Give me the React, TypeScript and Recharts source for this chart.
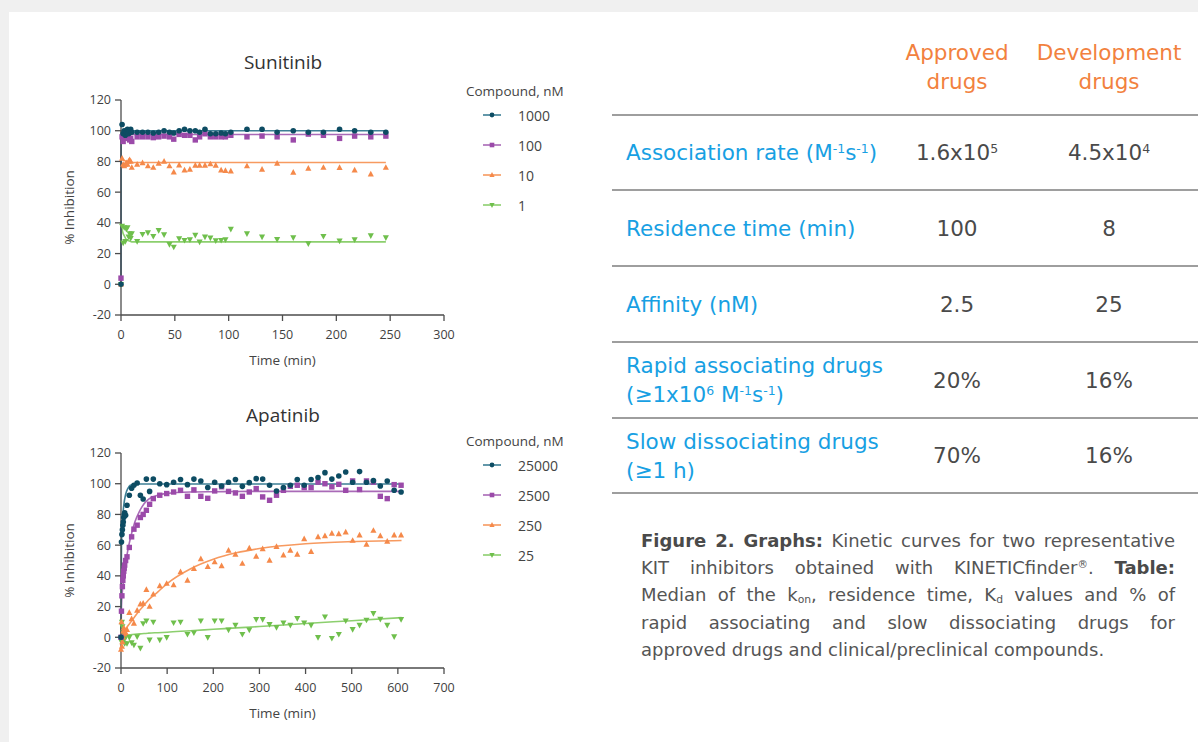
import React from 'react';
import { ComposedChart, XAxis, YAxis, Scatter, Line, Legend } from 'recharts';

// Sunitinib, time in min
const suniTime = [0, 1, 2, 3, 4, 5, 6, 7, 8, 9, 10, 15, 20, 25, 30, 35, 40, 45, 49, 54, 59, 64, 69, 73, 78, 83, 88, 93, 97, 102, 117, 131, 145, 160, 174, 188, 203, 217, 232, 246];
const suni1000 = [0, 104, 98, 100, 97, 99, 101, 98, 100, 101, 99, 99, 99, 99, 98.5, 99, 100, 99, 98.5, 100, 101, 100, 100, 99, 101, 98, 98, 98.5, 98, 99, 101, 101, 99, 100, 99, 99, 101, 100, 99, 99];
const suni100 = [4, 96, 93, 97, 95, 98, 96, 97, 94, 95, 93, 96, 96, 96, 95.5, 96, 96.5, 96, 94.5, 97.6, 97, 97, 94, 96, 98, 96, 96, 96, 96, 97, 96, 96.5, 96, 94, 97.8, 97, 95, 96.5, 96, 96.5];
const suni10 = [0, 82, 78, 77, 78, 79, 78, 80, 81, 80, 76, 78, 79, 77, 76, 78.7, 80, 77, 73, 77.6, 74.3, 74.8, 77.4, 77.4, 77.4, 78.3, 77.4, 74.3, 74, 73.7, 77, 74.8, 78.7, 72.8, 75.4, 76, 75.9, 74.3, 71.7, 76];
const suni1 = [0, 38, 27, 37, 28, 36, 37, 31, 33, 30, 33, 28, 32.6, 33.7, 31.3, 35.2, 32.4, 26, 24.3, 29.8, 28.7, 29.1, 32, 27.6, 30.9, 30.2, 28.5, 28.7, 29.1, 35.9, 33, 30.9, 29.3, 30.4, 26.5, 31.3, 28.3, 29.1, 31.7, 30.4];

const suniFitTime = [0, 0.2, 2, 5, 10, 246];
const suniFit1000 = [0, 100, 100, 100, 100, 100];
const suniFit100 = [0, 97.5, 97.5, 97.5, 97.5, 97.5];
const suniFit10 = [0, 83, 81, 80, 79.3, 79.3];
const suniFit1 = [0, 38, 33, 29, 27.6, 27.6];

// Apatinib, time in min
const apaTime = [0, 1, 2, 3, 4, 5, 6, 7, 8, 10, 13, 18, 23, 28, 35, 42, 48, 55, 62, 70, 84, 99, 114, 129, 144, 158, 173, 188, 203, 218, 233, 248, 263, 278, 293, 307, 322, 337, 352, 367, 382, 397, 412, 427, 442, 457, 472, 487, 502, 517, 532, 547, 562, 577, 592, 607];
const apa25000 = [0, 62, 67, 70, 73, 75, 78, 80, 81, 79.5, 86, 92.5, 97, 99, 100.5, 92.5, 90, 103, 95, 103, 100, 99.4, 101, 102.7, 99.4, 103, 101.8, 97.5, 101, 98.5, 101, 102.7, 98.3, 100.7, 103.3, 103, 99, 95.3, 97.5, 99, 102.7, 99, 102.7, 104, 107.2, 103, 105, 107.6, 101, 107.9, 101, 102, 98.5, 101.8, 95.7, 94.6];
const apa2500 = [0, 17, 27, 33, 37, 40, 43, 45, 47, 50, 52.4, 58.5, 65.4, 70.4, 73, 78, 80, 82.7, 86.6, 90.3, 92.5, 93.6, 94.6, 95.7, 91.8, 96, 91.8, 90.5, 95.3, 98, 95, 94, 91.8, 94.6, 96.8, 91.4, 89.2, 92.5, 95.7, 98.3, 99, 97.5, 97.5, 101, 100, 98, 99.6, 95.7, 101.8, 96.2, 101.8, 101, 91.8, 90.3, 99.4, 99];
const apa250 = [-8, 10, -6, -3, 0, 4, 6, 2, 5, 3, 5, 16, 12, 9, 17.5, 21.5, 22, 31, 20, 28, 33.5, 35, 34, 42.5, 37, 44.7, 51, 46, 49, 46.5, 56.5, 54, 48, 58, 52.7, 57.5, 50, 59, 53.5, 56.5, 54, 64, 55.8, 65.4, 66, 67.6, 67.3, 68.4, 63, 66.5, 60.5, 69.5, 66, 62.4, 66.5, 66.5];
const apa25 = [0, -3, 10, 7, -1, 3, -2, 1, -4, 0, -4, 0, -3.5, -5, 0.5, -7, 9, 10.8, -1.7, 10, -1.7, 0, 9.5, 10, 2, 3, 10.8, 0, 10.8, 10.8, 4.8, 8, 2, 4.8, 11.7, 11.7, 8.4, 6.5, 9.5, 8, 12.3, 9.5, 8, 0, 13.4, -0.6, 2, 10.8, 5.2, 8, 11.3, 15.6, 11.9, 8, 0.4, 11.7];

const apaFitTime = [0, 1, 3, 6, 10, 15, 20, 30, 40, 50, 60, 80, 100, 150, 200, 250, 300, 400, 500, 608];
const apaFit25000 = [0, 60, 75, 86, 93, 97, 99, 99.7, 99.8, 99.8, 99.8, 99.8, 99.8, 99.8, 99.8, 99.8, 99.8, 99.8, 99.8, 99.8];
const apaFit2500 = [0, 20, 30, 38, 48, 57, 64, 75, 82, 87, 90, 92.5, 93.7, 94.6, 94.8, 94.9, 95, 95, 95, 95];
const apaFit250 = [0, 0.5, 1.5, 3, 5, 7.5, 9.4, 13.5, 17.4, 20.9, 24.4, 29.6, 35, 44.5, 50.8, 55, 57.8, 60.9, 62.3, 63];
const apaFit25 = [0, 0.8, 1, 1.1, 1.3, 1.5, 1.7, 2, 2.2, 2.5, 2.7, 3, 3.3, 4.3, 5.2, 6.1, 7, 9, 10.8, 12.8];

const suniLabels = ['1000', '100', '10', '1'];
const apaLabels = ['25000', '2500', '250', '25'];
const yTicks = [-20, 0, 20, 40, 60, 80, 100, 120];
const suniXTicks = [0, 50, 100, 150, 200, 250, 300];
const apaXTicks = [0, 100, 200, 300, 400, 500, 600, 700];

type Kind = 'circle' | 'square' | 'up' | 'down';
const KINDS: Kind[] = ['circle', 'square', 'up', 'down'];
const DOT = ['#0d4c63', '#9b4aa9', '#f5894a', '#6fbf4c'];
const FIT = ['#3d7f95', '#a96ab7', '#f79a60', '#8ccf6e'];
const FONT = '"Open Sans", Lato, sans-serif';
const TABLE_FONT = '"DejaVu Sans", Verdana, sans-serif';

const toPts = (ts: number[], ys: number[]) => ts.map((t, i) => ({ t, y: ys[i] }));

function Marker({ cx, cy, kind, fill, s = 1 }: any) {
  if (cx == null || cy == null) return null;
  if (kind === 'circle') return <circle cx={cx} cy={cy} r={2.8 * s} fill={fill} />;
  if (kind === 'square') {
    const h = 2.7 * s;
    return <rect x={cx - h} y={cy - h} width={2 * h} height={2 * h} fill={fill} />;
  }
  const a = 3.4 * s;
  const b = 2.3 * s;
  if (kind === 'up') return <path d={`M${cx},${cy - a}L${cx + a * 0.9},${cy + b}L${cx - a * 0.9},${cy + b}Z`} fill={fill} />;
  return <path d={`M${cx},${cy + a}L${cx + a * 0.9},${cy - b}L${cx - a * 0.9},${cy - b}Z`} fill={fill} />;
}

type ChartProps = {
  title: string;
  top: number;
  time: number[];
  values: number[][];
  fitTime: number[];
  fits: number[][];
  labels: string[];
  xTicks: number[];
  fitType: 'linear' | 'monotone';
  legendTop: number;
};

function KineticChart({ title, top, time, values, fitTime, fits, labels, xTicks, fitType, legendTop }: ChartProps) {
  const tickStyle = { fill: '#3f3f3f', fontSize: 12.5, fontFamily: FONT };
  // draw lowest concentration first so the top series sits on top
  const order = [3, 2, 1, 0];
  return (
    <div style={{ position: 'absolute', left: 0, top, width: 600, height: 330 }}>
      <div
        style={{
          position: 'absolute', left: 0, top: 9, width: 566, textAlign: 'center',
          fontFamily: FONT, fontSize: 19, lineHeight: '26px', color: '#333',
        }}
      >
        {title}
      </div>
      <ComposedChart width={600} height={330} margin={{ top: 60, right: 156, bottom: 5, left: 55 }}>
        <XAxis
          dataKey="t"
          type="number"
          domain={[xTicks[0], xTicks[xTicks.length - 1]]}
          ticks={xTicks}
          height={50}
          tickSize={6}
          tickMargin={9}
          stroke="#4d4d4d"
          strokeWidth={1.3}
          tick={tickStyle}
          label={{ value: 'Time (min)', position: 'insideBottom', offset: 0, style: { fill: '#444', fontSize: 13.5, fontFamily: FONT } }}
        />
        <YAxis
          dataKey="y"
          type="number"
          domain={[-20, 120]}
          ticks={yTicks}
          width={66}
          tickSize={6}
          tickMargin={4}
          stroke="#4d4d4d"
          strokeWidth={1.3}
          tick={tickStyle}
          label={{ value: '% Inhibition', angle: -90, position: 'insideLeft', offset: 14, style: { textAnchor: 'middle', fill: '#444', fontSize: 13.5, fontFamily: FONT } }}
        />
        {order.map((i) => (
          <Line
            key={`fit-${i}`}
            data={toPts(fitTime, fits[i])}
            dataKey="y"
            type={fitType}
            stroke={FIT[i]}
            strokeWidth={1.6}
            dot={false}
            activeDot={false}
            isAnimationActive={false}
          />
        ))}
        {order.map((i) => (
          <Scatter
            key={`pts-${i}`}
            name={labels[i]}
            data={toPts(time, values[i])}
            dataKey="y"
            fill={DOT[i]}
            shape={(p: any) => <Marker cx={p.cx} cy={p.cy} kind={KINDS[i]} fill={DOT[i]} />}
            isAnimationActive={false}
          />
        ))}
        <Legend
          layout="vertical"
          align="center"
          verticalAlign="middle"
          wrapperStyle={{ left: 466, top: legendTop, width: 130 }}
          content={() => (
            <div style={{ fontFamily: FONT, color: '#444' }}>
              <div style={{ fontSize: 13.5, lineHeight: '18px', whiteSpace: 'nowrap' }}>Compound, nM</div>
              {labels.map((lab, i) => (
                <div key={lab} style={{ display: 'flex', alignItems: 'center', height: 30, paddingLeft: 16 }}>
                  <svg width={20} height={10} style={{ display: 'block' }}>
                    <line x1={1} y1={5} x2={19} y2={5} stroke={FIT[i]} strokeWidth={1.6} />
                    <Marker cx={10} cy={5} kind={KINDS[i]} fill={DOT[i]} s={0.85} />
                  </svg>
                  <span style={{ marginLeft: 16, fontSize: 14 }}>{lab}</span>
                </div>
              ))}
            </div>
          )}
        />
      </ComposedChart>
    </div>
  );
}

// table
const tableLines = [115, 190, 266, 342, 418, 493];
const rowLabels: React.ReactNode[] = [
  <>Association rate (M<sup>-1</sup>s<sup>-1</sup>)</>,
  <>Residence time (min)</>,
  <>Affinity (nM)</>,
  <>Rapid associating drugs<br />(≥1x10<sup>6</sup> M<sup>-1</sup>s<sup>-1</sup>)</>,
  <>Slow dissociating drugs<br />(≥1 h)</>,
];
const approvedVals: React.ReactNode[] = [<>1.6x10<sup>5</sup></>, '100', '2.5', '20%', '70%'];
const developmentVals: React.ReactNode[] = [<>4.5x10<sup>4</sup></>, '8', '25', '16%', '16%'];

const B = ({ children }: { children: React.ReactNode }) => <b style={{ color: '#4a4a4a' }}>{children}</b>;
const captionLines: React.ReactNode[] = [
  <><B>Figure 2. Graphs:</B> Kinetic curves for two representative</>,
  <>KIT inhibitors obtained with KINETICfinder<sup>®</sup>. <B>Table:</B></>,
  <>Median of the k<sub>on</sub>, residence time, K<sub>d</sub> values and % of</>,
  <>rapid associating and slow dissociating drugs for</>,
  <>approved drugs and clinical/preclinical compounds.</>,
];

export default function App() {
  const supStyle = `sup{font-size:0.58em;vertical-align:0.6em;line-height:0}sub{font-size:0.6em;vertical-align:-0.15em;line-height:0}`;
  return (
    <div style={{ position: 'relative', width: 1198, height: 742, background: '#f0f0f0', overflow: 'hidden' }}>
      <style>{`body{margin:0}${supStyle}`}</style>
      <div style={{ position: 'absolute', left: 9, top: 12, right: 0, bottom: 0, background: '#fff' }} />

      <KineticChart
        title="Sunitinib"
        top={40}
        time={suniTime}
        values={[suni1000, suni100, suni10, suni1]}
        fitTime={suniFitTime}
        fits={[suniFit1000, suniFit100, suniFit10, suniFit1]}
        labels={suniLabels}
        xTicks={suniXTicks}
        fitType="linear"
        legendTop={42}
      />
      <KineticChart
        title="Apatinib"
        top={393}
        time={apaTime}
        values={[apa25000, apa2500, apa250, apa25]}
        fitTime={apaFitTime}
        fits={[apaFit25000, apaFit2500, apaFit250, apaFit25]}
        labels={apaLabels}
        xTicks={apaXTicks}
        fitType="monotone"
        legendTop={39}
      />

      {/* table header */}
      {[['Approved', 872], ['Development', 1024]].map(([w, left]) => (
        <div
          key={w as string}
          style={{
            position: 'absolute', left: left as number, top: 38, width: 170, textAlign: 'center',
            fontFamily: TABLE_FONT, fontSize: 21.5, lineHeight: '29px', color: '#f2813e',
          }}
        >
          {w}
          <br />
          drugs
        </div>
      ))}
      {tableLines.map((y) => (
        <div key={y} style={{ position: 'absolute', left: 612, top: y - 1, width: 586, height: 2, background: '#9e9e9e' }} />
      ))}
      {rowLabels.map((lab, i) => {
        const y0 = tableLines[i];
        const h = tableLines[i + 1] - y0;
        const cell = { position: 'absolute' as const, top: y0, height: h, display: 'flex', alignItems: 'center', fontFamily: TABLE_FONT, fontSize: 21.5, lineHeight: '29px' };
        return (
          <React.Fragment key={i}>
            <div style={{ ...cell, left: 626, width: 300, color: '#17a0e3' }}>
              <div>{lab}</div>
            </div>
            <div style={{ ...cell, left: 872, width: 170, justifyContent: 'center', color: '#4a4a4a' }}>
              <div>{approvedVals[i]}</div>
            </div>
            <div style={{ ...cell, left: 1024, width: 170, justifyContent: 'center', color: '#4a4a4a' }}>
              <div>{developmentVals[i]}</div>
            </div>
          </React.Fragment>
        );
      })}

      {/* caption, one div per printed line so the breaks match */}
      <div style={{ position: 'absolute', left: 641, top: 527, width: 534, fontFamily: TABLE_FONT, fontSize: 18, color: '#555' }}>
        {captionLines.map((ln, i) => (
          <div
            key={i}
            style={{
              height: 27.2, lineHeight: '27.2px', whiteSpace: 'nowrap',
              textAlign: i < captionLines.length - 1 ? 'justify' : 'left',
              textAlignLast: i < captionLines.length - 1 ? 'justify' : 'left',
            }}
          >
            {ln}
          </div>
        ))}
      </div>
    </div>
  );
}
